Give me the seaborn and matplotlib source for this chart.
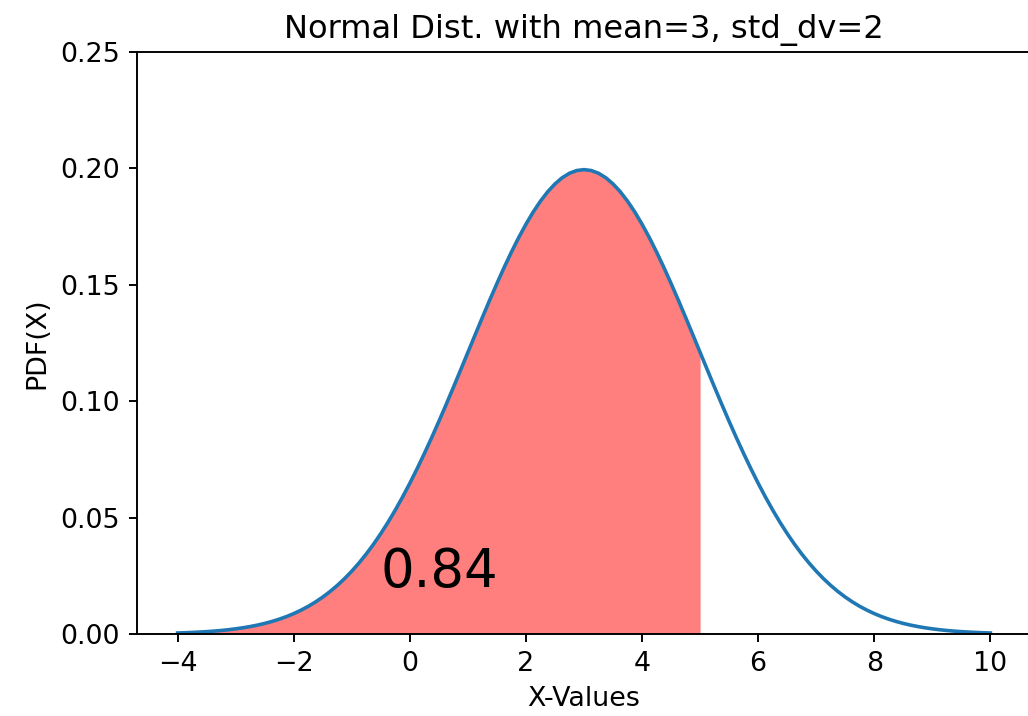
import matplotlib
matplotlib.use('Agg')
import matplotlib.pyplot as plt
import pandas as pd
import seaborn as sns

# values (x step 0.125)
x_vals = [-4.0, -3.875, -3.75, -3.625, -3.5, -3.375, -3.25, -3.125,
          -3.0, -2.875, -2.75, -2.625, -2.5, -2.375, -2.25, -2.125,
          -2.0, -1.875, -1.75, -1.625, -1.5, -1.375, -1.25, -1.125,
          -1.0, -0.875, -0.75, -0.625, -0.5, -0.375, -0.25, -0.125,
          0.0, 0.125, 0.25, 0.375, 0.5, 0.625, 0.75, 0.875,
          1.0, 1.125, 1.25, 1.375, 1.5, 1.625, 1.75, 1.875,
          2.0, 2.125, 2.25, 2.375, 2.5, 2.625, 2.75, 2.875,
          3.0,
          3.125, 3.25, 3.375, 3.5, 3.625, 3.75, 3.875, 4.0,
          4.125, 4.25, 4.375, 4.5, 4.625, 4.75, 4.875, 5.0,
          5.125, 5.25, 5.375, 5.5, 5.625, 5.75, 5.875, 6.0,
          6.125, 6.25, 6.375, 6.5, 6.625, 6.75, 6.875, 7.0,
          7.125, 7.25, 7.375, 7.5, 7.625, 7.75, 7.875, 8.0,
          8.125, 8.25, 8.375, 8.5, 8.625, 8.75, 8.875, 9.0,
          9.125, 9.25, 9.375, 9.5, 9.625, 9.75, 9.875, 10.0]
pdf_vals = [0.00044, 0.00054, 0.00067, 0.00083, 0.00101, 0.00124, 0.00151, 0.00183,
            0.00222, 0.00267, 0.00320, 0.00382, 0.00454, 0.00539, 0.00636, 0.00748,
            0.00876, 0.01023, 0.01188, 0.01376, 0.01587, 0.01823, 0.02086, 0.02378,
            0.02700, 0.03053, 0.03439, 0.03859, 0.04314, 0.04803, 0.05327, 0.05885,
            0.06476, 0.07099, 0.07752, 0.08430, 0.09132, 0.09855, 0.10593, 0.11343,
            0.12098, 0.12854, 0.13602, 0.14339, 0.15056, 0.15749, 0.16408, 0.17028,
            0.17603, 0.18127, 0.18593, 0.18996, 0.19333, 0.19600, 0.19792, 0.19908,
            0.19947,
            0.19908, 0.19792, 0.19600, 0.19333, 0.18996, 0.18593, 0.18127, 0.17603,
            0.17028, 0.16408, 0.15749, 0.15056, 0.14339, 0.13602, 0.12854, 0.12098,
            0.11343, 0.10593, 0.09855, 0.09132, 0.08430, 0.07752, 0.07099, 0.06476,
            0.05885, 0.05327, 0.04803, 0.04314, 0.03859, 0.03439, 0.03053, 0.02700,
            0.02378, 0.02086, 0.01823, 0.01587, 0.01376, 0.01188, 0.01023, 0.00876,
            0.00748, 0.00636, 0.00539, 0.00454, 0.00382, 0.00320, 0.00267, 0.00222,
            0.00183, 0.00151, 0.00124, 0.00101, 0.00083, 0.00067, 0.00054, 0.00044]
cutoff = 5.0
area_label = "0.84"

df = pd.DataFrame({"x": x_vals, "pdf": pdf_vals})
shade = df[df["x"] <= cutoff]

plt.rcParams['font.size'] = 11.2
plt.rcParams['axes.titlesize'] = 13.4
plt.rcParams['axes.labelsize'] = 11.2

dpi = 172.8
fig = plt.figure(figsize=(1028 / dpi, 716 / dpi), dpi=dpi)
ax = fig.add_axes([137 / 1028, 1 - 634 / 716, (1031 - 137) / 1028, (634 - 52) / 716])

sns.lineplot(data=df, x="x", y="pdf", ax=ax, color="#1f77b4", linewidth=1.5)
ax.fill_between(shade["x"], shade["pdf"], color="red", alpha=0.5, linewidth=0)
ax.text(-0.5, 0.02, area_label, fontsize=22)

ax.set_ylim(0, 0.25)
ax.set_title("Normal Dist. with mean=3, std_dv=2")
ax.set_xlabel("X-Values")
ax.set_ylabel("PDF(X)")

fig.savefig("out.png", dpi=dpi)
